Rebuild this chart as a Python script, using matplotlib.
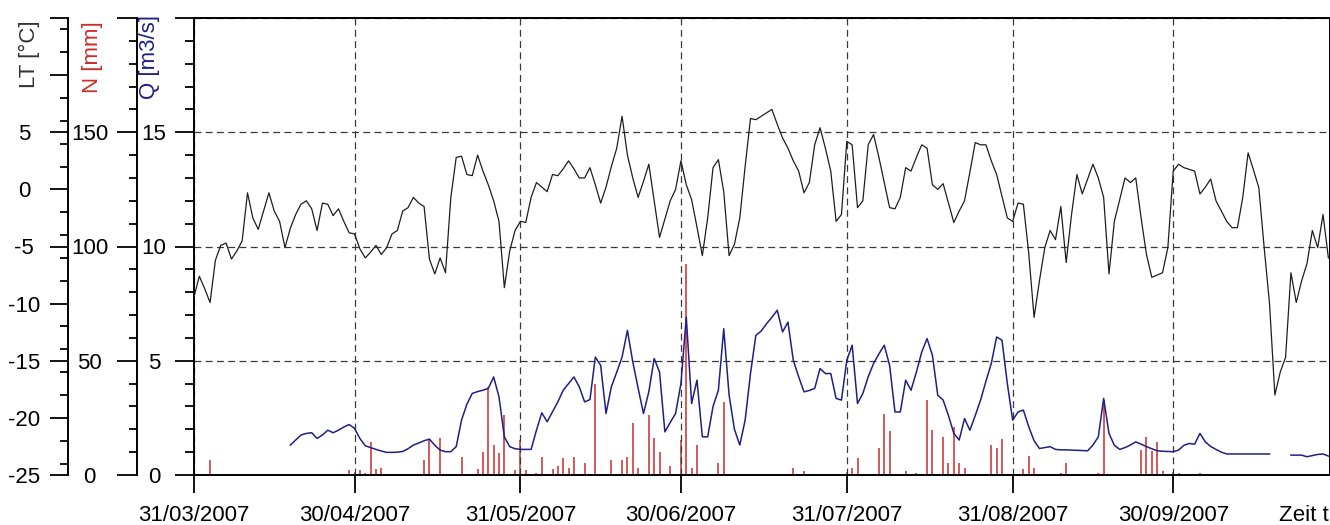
import numpy as np
import matplotlib
matplotlib.use("Agg")
import matplotlib.pyplot as plt
import matplotlib.dates as mdates
from matplotlib.ticker import MultipleLocator

plt.rcParams['font.family'] = ['Liberation Sans', 'DejaVu Sans']

# ---------------- data ----------------
start_date = np.datetime64('2007-03-31')
end_date = np.datetime64('2007-10-29T05:00')

# air temperature LT [°C], daily from 31/03/2007
lt_values = [
    -9.4, -7.6, -8.7, -9.9, -6.2, -4.9, -4.7, -6.1, -5.4, -4.5,
    -0.3, -2.5, -3.5, -1.9, -0.3, -1.9, -2.8, -5.1, -3.4, -2.2,
    -1.3, -1.0, -1.7, -3.6, -1.2, -1.3, -2.3, -1.7, -2.8, -3.8,
    -3.9, -5.2, -6.0, -5.5, -4.9, -5.7, -5.1, -3.9, -3.6, -1.9,
    -1.6, -0.7, -1.2, -1.5, -6.1, -7.4, -6.0, -7.3, -0.7, 2.8,
    2.9, 1.3, 1.2, 3.0, 1.6, 0.4, -1.0, -2.8, -8.6, -5.4,
    -3.6, -2.8, -2.9, -0.7, 0.6, 0.2, -0.2, 1.3, 1.2, 1.8,
    2.5, 1.8, 1.0, 1.0, 1.9, 0.4, -1.2, 0.2, 2.0, 3.6,
    6.4, 3.0, 1.0, -0.7, 0.7, 2.2, -1.0, -4.2, -2.6, -1.0,
    0.0, 2.5, 0.4, -0.9, -3.3, -5.8, -2.5, 1.9, 2.6, -0.2,
    -5.8, -4.8, -2.5, 2.0, 6.2, 6.1, 6.4, 6.7, 7.0, 5.7,
    4.5, 3.6, 2.5, 1.6, -0.3, 0.6, 3.9, 5.4, 3.6, 1.6,
    -2.8, -2.2, 4.2, 3.9, -1.6, -1.0, 3.9, 4.8, 2.8, 0.6,
    -1.6, -1.7, -0.7, 1.9, 1.6, 2.8, 3.9, 3.6, 0.4, 0.0,
    0.5, -1.2, -2.9, -1.9, -1.0, 1.5, 4.1, 3.9, 3.9, 2.5,
    1.3, -0.6, -2.5, -2.8, -1.2, -1.3, -5.6, -11.2, -8.0, -5.1,
    -3.6, -4.4, -1.5, -6.4, -2.2, 1.3, -0.4, 0.9, 2.2, 1.0,
    -0.7, -7.4, -2.8, -0.9, 1.0, 0.6, 1.0, -2.5, -5.7, -7.7,
    -7.5, -7.3, -5.1, 1.6, 2.2, 1.9, 1.75, 1.6, -0.4, 0.2,
    0.9, -1.0, -1.9, -2.8, -3.35, -3.35, -0.7, 3.2, 1.7, 0.15,
    -5.1, -10.0, -18.0, -16.0, -14.7, -7.3, -9.9, -8.0, -6.5, -3.6,
    -5.1, -2.2, -6.0,
]

# discharge Q [m3/s], daily from 18/04/2007 (nan = missing)
q_start_date = np.datetime64('2007-04-18')
nan = np.nan
q_values = [
    1.31, 1.53, 1.75, 1.82, 1.85, 1.60, 1.75, 1.96, 1.85, 1.96,
    2.10, 2.21, 2.04, 1.60, 1.28, 1.20, 1.12, 1.05, 0.99, 0.99,
    1.00, 1.03, 1.15, 1.31, 1.40, 1.50, 1.57, 1.30, 1.09, 1.02,
    1.02, 1.24, 2.40, 3.10, 3.57, 3.65, 3.71, 3.79, 4.29, 3.42,
    1.67, 1.24, 1.15, 1.12, 1.12, 1.12, 1.96, 2.72, 2.33, 2.76,
    3.20, 3.71, 4.00, 4.29, 3.86, 3.20, 3.30, 5.16, 4.80, 2.69,
    3.86, 4.50, 5.16, 6.33, 4.95, 3.80, 2.69, 3.64, 5.10, 4.51,
    1.89, 2.30, 2.69, 4.00, 6.91, 3.13, 4.15, 1.67, 1.67, 3.00,
    3.71, 6.40, 3.50, 2.00, 1.31, 2.40, 4.44, 6.11, 6.30, 6.62,
    6.90, 7.21, 6.26, 6.69, 5.02, 4.30, 3.64, 3.70, 3.79, 4.66,
    4.44, 4.44, 3.35, 3.28, 5.02, 5.68, 3.13, 3.57, 4.30, 4.88,
    5.30, 5.68, 4.80, 2.76, 2.76, 4.15, 3.71, 4.50, 5.38, 5.97,
    5.24, 3.49, 3.28, 2.60, 1.82, 1.53, 2.47, 1.96, 2.60, 3.28,
    4.10, 4.88, 6.04, 5.90, 4.00, 2.40, 2.76, 2.84, 2.11, 1.50,
    1.16, 1.20, 1.24, 1.12, 1.10, 1.10, 1.09, 1.08, 1.07, 1.06,
    1.31, 1.67, 3.35, 1.82, 1.30, 1.12, 1.20, 1.31, 1.45, 1.35,
    1.24, 1.15, 1.06, 1.04, 1.03, 1.02, 1.09, 1.30, 1.38, 1.35,
    1.82, 1.45, 1.25, 1.12, 1.00, 0.92, 0.92, 0.92, 0.92, 0.92,
    0.92, 0.92, 0.92, 0.92, nan, nan, nan, 0.87, 0.87, 0.87,
    0.80, 0.85, 0.90, 0.92, 0.83,
]

# precipitation N [mm]: days after 31/03/2007 with rain, and amount
n_days = [3, 29, 30, 31, 32, 33, 34, 35, 43, 44, 46, 50, 53, 54, 55, 56, 57, 58,
          60, 61, 62, 64, 65, 67, 68, 69, 70, 71, 73, 75, 78, 80, 81, 82, 83, 85,
          86, 87, 89, 91, 92, 93, 94, 98, 99, 112, 114, 122, 123, 124, 128, 129,
          130, 133, 135, 137, 138, 140, 141, 142, 143, 144, 149, 150, 151, 155,
          156, 157, 162, 163, 169, 170, 177, 178, 179, 180, 181, 183, 184, 188]
n_mm = [6.5, 2.2, 1.5, 2.2, 0.7, 14.5, 2.5, 3.2, 6.5, 15.3, 16.0, 8.0, 2.5, 10.2,
        38.5, 13.1, 9.5, 26.2, 2.2, 15.3, 2.2, 1.0, 7.7, 2.5, 3.9, 7.3, 3.2, 8.0,
        5.4, 40.0, 6.5, 6.5, 8.0, 22.8, 3.2, 26.2, 16.0, 10.2, 3.9, 15.3, 92.3,
        3.2, 13.1, 5.4, 32.0, 3.2, 1.7, 1.5, 3.2, 7.3, 11.6, 26.9, 19.2, 1.7, 1.0,
        32.7, 19.9, 16.7, 5.4, 21.1, 5.4, 3.2, 13.1, 11.6, 15.6, 2.5, 8.3, 3.2,
        0.7, 5.4, 1.0, 32.7, 10.9, 16.7, 10.6, 14.5, 1.7, 1.5, 1.0, 0.7]

x_tick_dates = ['2007-03-31', '2007-04-30', '2007-05-31', '2007-06-30',
                '2007-07-31', '2007-08-31', '2007-09-30']
x_tick_labels = ['31/03/2007', '30/04/2007', '31/05/2007', '30/06/2007',
                 '31/07/2007', '31/08/2007', '30/09/2007']

q_ticks = [0, 5, 10, 15, 20]
q_tick_labels = ['0', '5', '10', '15', '']
n_ticks = [0, 50, 100, 150, 200]
n_tick_labels = ['0', '50', '100', '150', '']
lt_ticks = [-25, -20, -15, -10, -5, 0, 5, 10, 15]
lt_tick_labels = ['-25', '-20', '-15', '-10', '-5', '0', '5', '', '']

# ---------------- figure ----------------
W, H = 1330, 525
PT = 0.72  # points per pixel at 100 dpi
FS = 16

fig = plt.figure(figsize=(W / 100, H / 100), dpi=100)
fig.patch.set_facecolor('white')
ax = fig.add_axes([194 / W, 1 - 475 / H, (1329.5 - 194) / W, (475 - 18) / H])

lt_dates = start_date + np.arange(len(lt_values)).astype('timedelta64[D]')
q_dates = q_start_date + np.arange(len(q_values)).astype('timedelta64[D]')
n_dates = start_date + np.array(n_days).astype('timedelta64[D]')

col_lt = '#1e1e1e'
col_q = '#1f1f86'
col_n = '#cc2b2b'

# N axis (bars, bottom layer)
axN = ax.twinx()
# LT axis (top layer)
axL = ax.twinx()

for a, off in ((axN, 57), (axL, 126)):
    a.yaxis.set_ticks_position('left')
    a.spines['left'].set_position(('outward', off * PT))
    a.spines['left'].set_visible(True)
    for s in ('right', 'top', 'bottom'):
        a.spines[s].set_visible(False)
    a.spines['left'].set_linewidth(1.4)
    a.patch.set_visible(False)

axN.set_zorder(1)
ax.set_zorder(2)
axL.set_zorder(3)
ax.patch.set_visible(False)

# precipitation bars
axN.vlines(n_dates, 0, n_mm, color=col_n, lw=1.1)
axN.set_ylim(0, 200)
axN.set_yticks(n_ticks, n_tick_labels, ha='center')
axN.yaxis.set_minor_locator(MultipleLocator(10))
axN.tick_params(axis='y', which='major', length=20 * PT, width=1.3,
                pad=27.5 * PT, labelsize=FS)
axN.tick_params(axis='y', which='minor', length=8 * PT, width=1.3)

# discharge
ax.plot(q_dates, q_values, color=col_q, lw=1.1)
ax.set_ylim(0, 20)
ax.set_yticks(q_ticks, q_tick_labels, ha='center')
ax.yaxis.set_minor_locator(MultipleLocator(1))
ax.tick_params(axis='y', which='major', length=19 * PT, width=1.3,
               pad=21 * PT, labelsize=FS)
ax.tick_params(axis='y', which='minor', length=9 * PT, width=1.3)

# temperature
axL.plot(lt_dates, lt_values, color=col_lt, lw=0.9)
axL.set_ylim(-25, 15)
axL.set_yticks(lt_ticks, lt_tick_labels, ha='center')
axL.yaxis.set_minor_locator(MultipleLocator(2))
axL.tick_params(axis='y', which='major', length=18 * PT, width=1.3,
                pad=26 * PT, labelsize=FS)
axL.tick_params(axis='y', which='minor', length=8 * PT, width=1.3)

# x axis
ax.set_xlim(start_date, end_date)
ax.set_xticks(np.array(x_tick_dates, dtype='datetime64[D]'), x_tick_labels)
ax.tick_params(axis='x', which='major', length=18 * PT, width=1.3,
               pad=12 * PT, labelsize=FS)
ax.xaxis.set_minor_locator(plt.NullLocator())

for s in ax.spines.values():
    s.set_linewidth(1.4)

ax.grid(True, which='major', axis='both', color='#3a3a3a', lw=0.9,
        ls=(0, (5.5, 3.5)))

# axis titles
fig.text(29 / W, 1 - 54 / H, 'LT [°C]', rotation=90, ha='center', va='center',
         fontsize=FS, color='#333333')
fig.text(93 / W, 1 - 57 / H, 'N [mm]', rotation=90, ha='center', va='center',
         fontsize=FS, color=col_n)
fig.text(150 / W, 1 - 57 / H, 'Q [m3/s]', rotation=90, ha='center', va='center',
         fontsize=FS, color=col_q)
fig.text(1304 / W, 1 - 505 / H, 'Zeit t', ha='center', va='top', fontsize=FS)

fig.savefig('out.png', dpi=100, facecolor='white')
